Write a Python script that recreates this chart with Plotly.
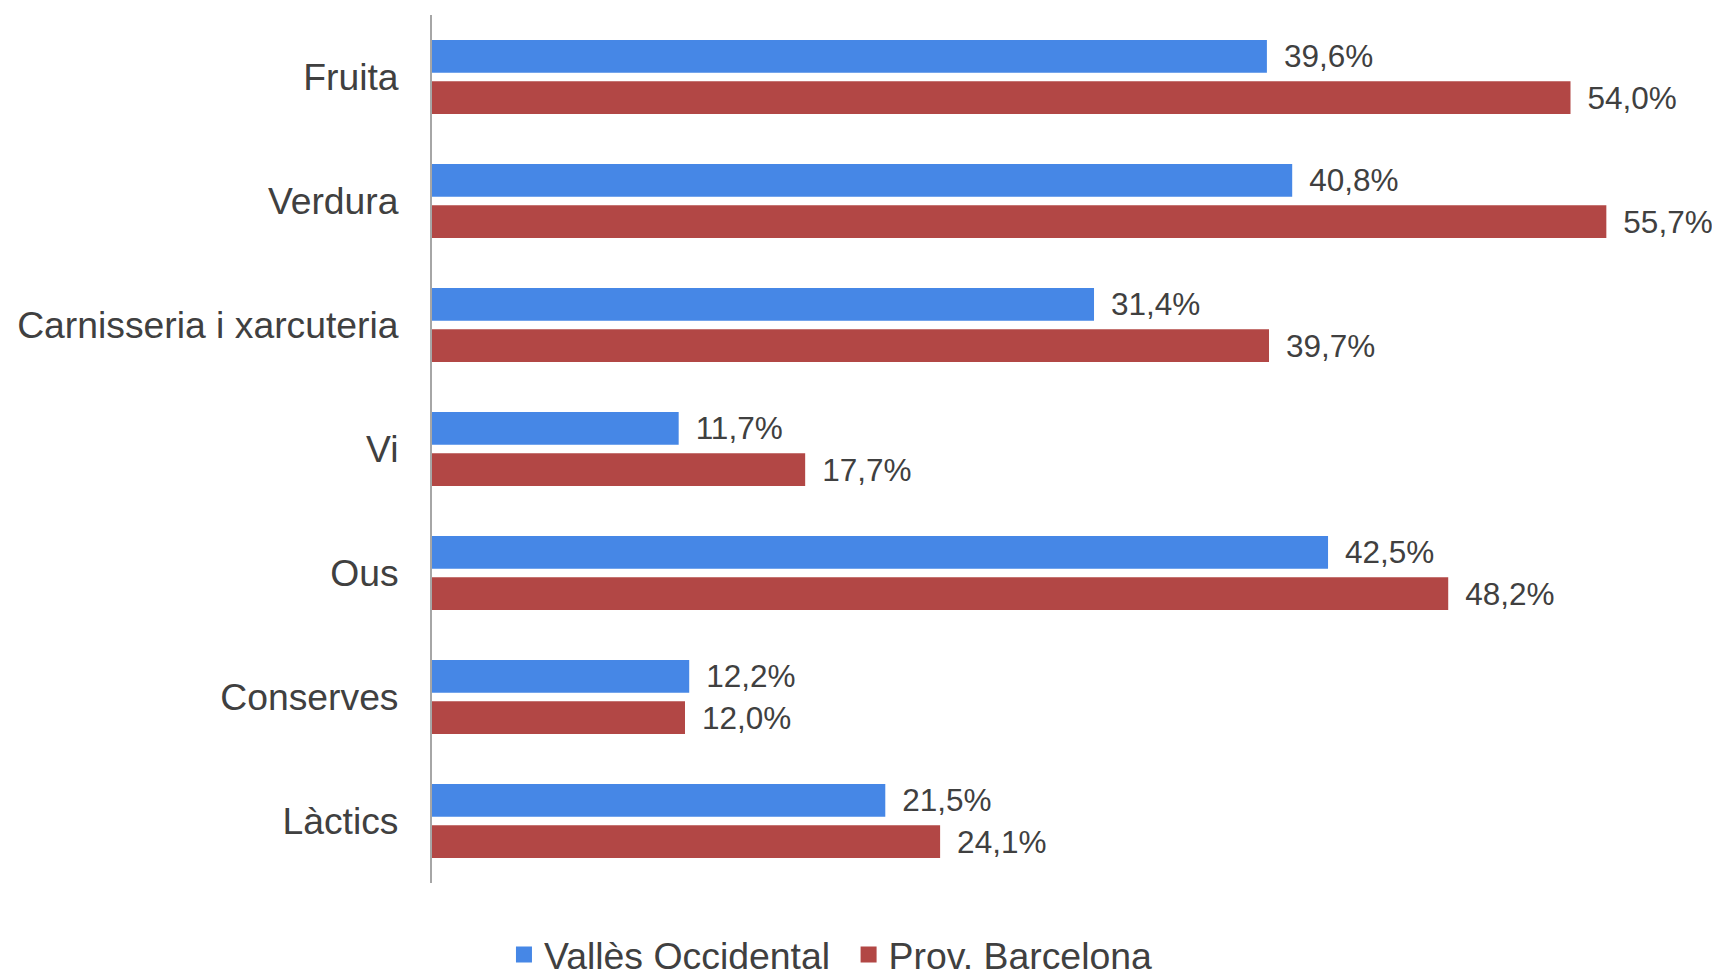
import plotly.graph_objects as go

# ── data ─────────────────────────────────────────────────────────────────────
categories = ["Fruita", "Verdura", "Carnisseria i xarcuteria", "Vi", "Ous",
              "Conserves", "Làctics"]
valles = [39.6, 40.8, 31.4, 11.7, 42.5, 12.2, 21.5]
barcelona = [54.0, 55.7, 39.7, 17.7, 48.2, 12.0, 24.1]

SERIES = [
    ("Vallès Occidental", valles, "#4687E6"),
    ("Prov. Barcelona", barcelona, "#B24745"),
]
TEXT_COLOR = "#404040"
FONT = "Liberation Sans, Arial, sans-serif"


def fmt(v: float) -> str:
    # decimal comma + a little breathing room after the bar end
    return "\u00a0\u2006" + f"{v:.1f}%".replace(".", ",")


fig = go.Figure()

for name, vals, color in SERIES:
    fig.add_trace(go.Bar(
        y=categories, x=vals, orientation="h",
        name=name, marker_color=color, marker_line_width=0,
        text=[fmt(v) for v in vals], textposition="outside",
        textfont=dict(size=31.5, color=TEXT_COLOR, family=FONT),
        constraintext="none", cliponaxis=False,
        showlegend=False,
    ))

# legend entries with bigger square swatches
for i, (name, _, color) in enumerate(SERIES):
    fig.add_trace(go.Scatter(
        x=[None], y=[None], mode="markers",
        name=name + ("\u00a0\u200a" if i == 0 else ""),
        marker=dict(symbol="square", size=18, color=color),
    ))

# page body has an 8px margin, so the figure is sized/positioned to compensate
fig.update_layout(
    width=1712, height=964,
    margin=dict(l=424, r=23, t=7, b=89),
    plot_bgcolor="white", paper_bgcolor="white",
    font=dict(family=FONT, color=TEXT_COLOR),
    barmode="group", bargap=0.332, bargroupgap=0.21,
    showlegend=True,
    legend=dict(
        orientation="h", xref="container", yref="container",
        x=0.2897, xanchor="left", y=0.018, yanchor="middle",
        font=dict(size=37.4, color=TEXT_COLOR, family=FONT),
        itemsizing="trace",
    ),
    xaxis=dict(range=[0, 60], visible=False, showgrid=False, zeroline=False),
    yaxis=dict(
        autorange="reversed", showline=True, linecolor="#A6A6A6", linewidth=2,
        showgrid=False, ticks="", ticklabelstandoff=24,
        tickfont=dict(size=37.3, color=TEXT_COLOR, family=FONT),
    ),
)

fig.write_html("out.html")
